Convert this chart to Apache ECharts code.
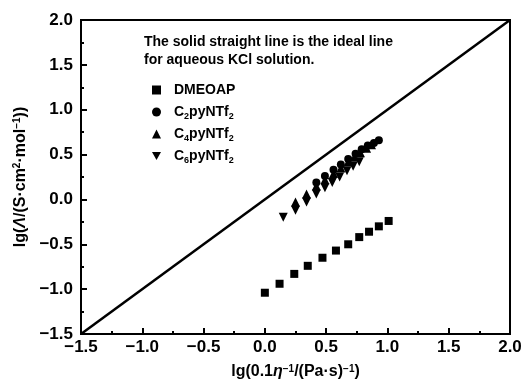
<!DOCTYPE html>
<html>
<head>
<meta charset="utf-8">
<script src="https://cdn.jsdelivr.net/npm/echarts@6/dist/echarts.min.js"></script>
<style>
  html, body { margin: 0; padding: 0; background: #fff; }
  #chart { width: 526px; height: 385px; }
</style>
</head>
<body>
<div id="chart"></div>
<script>
// 数据
var seriesNames = ['DMEOAP', 'C2pyNTf2', 'C4pyNTf2', 'C6pyNTf2'];

var dmeoapX = [0.00, 0.12, 0.24, 0.35, 0.47, 0.58, 0.68, 0.77, 0.85, 0.93, 1.01];
var dmeoapY = [-1.04, -0.94, -0.83, -0.74, -0.65, -0.57, -0.50, -0.42, -0.36, -0.30, -0.24];

var c2X = [0.42, 0.49, 0.56, 0.62, 0.68, 0.74, 0.79, 0.84, 0.89, 0.93];
var c2Y = [0.19, 0.26, 0.33, 0.39, 0.45, 0.51, 0.56, 0.60, 0.63, 0.66];

var c4X = [0.25, 0.34, 0.42, 0.49, 0.56, 0.62, 0.68, 0.73, 0.78, 0.83, 0.87];
var c4Y = [-0.03, 0.06, 0.15, 0.22, 0.29, 0.35, 0.42, 0.47, 0.52, 0.57, 0.61];

var c6X = [0.15, 0.25, 0.34, 0.42, 0.49, 0.55, 0.61, 0.67, 0.72, 0.77];
var c6Y = [-0.20, -0.12, -0.03, 0.06, 0.13, 0.19, 0.25, 0.32, 0.37, 0.42];

// 理想线 (KCl 水溶液)
var idealX = [-1.5, 2.0];
var idealY = [-1.5, 2.0];

var FONT = "'Liberation Sans', Arial, sans-serif";
var DOWN_TRI = 'path://M0,0 L10,0 L5,9 Z';

function pairs (xs, ys) {
  var out = [];
  for (var i = 0; i < xs.length; i++) out.push([xs[i], ys[i]]);
  return out;
}

function tickFmt (v) {
  return v.toFixed(1).replace('-', '\u2212');
}

var legendNames = {
  'DMEOAP': 'DMEOAP',
  'C2pyNTf2': 'C{sub|2}pyNTf{sub|2}',
  'C4pyNTf2': 'C{sub|4}pyNTf{sub|2}',
  'C6pyNTf2': 'C{sub|6}pyNTf{sub|2}'
};

var supStyle = { fontSize: 10, fontWeight: 'bold', fontFamily: FONT, verticalAlign: 'top', lineHeight: 12, color: '#000' };
var itStyle = { fontSize: 16, fontWeight: 'bold', fontStyle: 'italic', fontFamily: FONT, color: '#000' };
var markStyle = { color: '#000', opacity: 1 };

var option = {
  animation: false,
  backgroundColor: '#fff',
  grid: {
    left: 81, right: 16, top: 20, bottom: 51,
    show: true, borderColor: '#000', borderWidth: 2
  },
  xAxis: {
    type: 'value',
    min: -1.5, max: 2.0, interval: 0.5,
    name: 'lg(0.1{it|η}{sup|\u22121}/(Pa·s){sup|\u22121})',
    nameLocation: 'middle',
    nameGap: 30,
    nameTextStyle: {
      fontSize: 16, fontWeight: 'bold', fontFamily: FONT, color: '#000',
      rich: { sup: supStyle, it: itStyle }
    },
    axisLine: { show: true, onZero: false, lineStyle: { color: '#000', width: 2 } },
    axisTick: { show: true, inside: true, length: 6, lineStyle: { color: '#000', width: 2 } },
    minorTick: { show: true, splitNumber: 2, length: 3, lineStyle: { color: '#000', width: 2 } },
    splitLine: { show: false },
    axisLabel: {
      color: '#000', fontSize: 17, fontWeight: 'bold', fontFamily: FONT, margin: 5,
      formatter: tickFmt
    }
  },
  yAxis: {
    type: 'value',
    min: -1.5, max: 2.0, interval: 0.5,
    name: 'lg({it|Λ}/(S·cm{sup|2}·mol{sup|\u22121}))',
    nameLocation: 'middle',
    nameGap: 42,
    nameTextStyle: {
      fontSize: 16, fontWeight: 'bold', fontFamily: FONT, color: '#000',
      rich: { sup: supStyle, it: itStyle }
    },
    axisLine: { show: true, onZero: false, lineStyle: { color: '#000', width: 2 } },
    axisTick: { show: true, inside: true, length: 6, lineStyle: { color: '#000', width: 2 } },
    minorTick: { show: true, splitNumber: 2, length: 3, lineStyle: { color: '#000', width: 2 } },
    splitLine: { show: false },
    axisLabel: {
      color: '#000', fontSize: 17, fontWeight: 'bold', fontFamily: FONT, margin: 8,
      formatter: tickFmt
    }
  },
  legend: {
    data: [
      { name: 'DMEOAP', icon: 'rect' },
      { name: 'C2pyNTf2', icon: 'circle' },
      { name: 'C4pyNTf2', icon: 'triangle' },
      { name: 'C6pyNTf2', icon: DOWN_TRI }
    ],
    orient: 'vertical',
    left: 147, top: 76,
    itemWidth: 9, itemHeight: 9, itemGap: 4,
    selectedMode: false,
    itemStyle: { opacity: 1 },
    textStyle: {
      fontSize: 14, fontWeight: 'bold', fontFamily: FONT, color: '#000', lineHeight: 18,
      padding: [0, 0, 0, 8],
      rich: {
        sub: { fontSize: 9, fontWeight: 'bold', fontFamily: FONT, verticalAlign: 'bottom', lineHeight: 14, color: '#000' }
      }
    },
    formatter: function (name) { return legendNames[name]; }
  },
  graphic: [{
    type: 'text',
    left: 144, top: 33,
    style: {
      text: 'The solid straight line is the ideal line\nfor aqueous KCl solution.',
      font: 'bold 14px ' + FONT,
      lineHeight: 18,
      fill: '#000'
    }
  }],
  series: [{
    name: 'ideal',
    type: 'line',
    data: pairs(idealX, idealY),
    showSymbol: false,
    silent: true,
    lineStyle: { color: '#000', width: 2.5 },
    z: 1
  }, {
    name: 'DMEOAP',
    type: 'scatter',
    symbol: 'rect',
    symbolSize: 8,
    data: pairs(dmeoapX, dmeoapY),
    itemStyle: markStyle
  }, {
    name: 'C2pyNTf2',
    type: 'scatter',
    symbol: 'circle',
    symbolSize: 8,
    data: pairs(c2X, c2Y),
    itemStyle: markStyle
  }, {
    name: 'C4pyNTf2',
    type: 'scatter',
    symbol: 'triangle',
    symbolSize: 9,
    data: pairs(c4X, c4Y),
    itemStyle: markStyle
  }, {
    name: 'C6pyNTf2',
    type: 'scatter',
    symbol: DOWN_TRI,
    symbolSize: 9,
    data: pairs(c6X, c6Y),
    itemStyle: markStyle
  }]
};

var myChart = echarts.init(document.getElementById('chart'));
myChart.setOption(option);
</script>
</body>
</html>
